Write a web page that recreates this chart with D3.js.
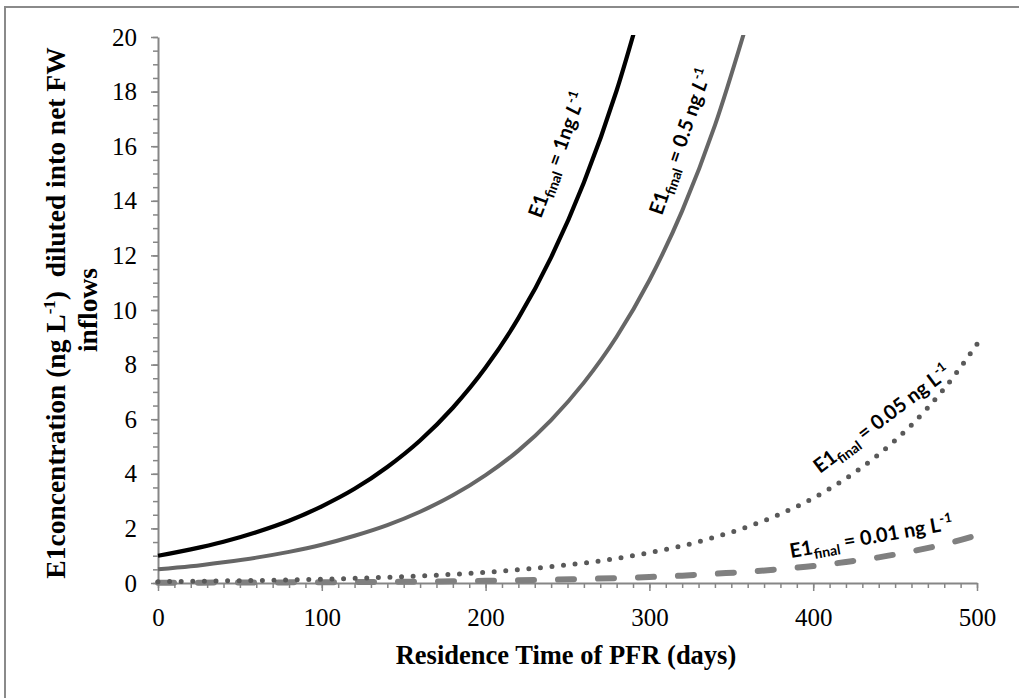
<!DOCTYPE html>
<html>
<head>
<meta charset="utf-8">
<script src="https://cdn.jsdelivr.net/npm/d3@7"></script>
<style>
  body { margin: 0; background: #fff; }
  .tick text { font-family: "Liberation Serif", "Times New Roman", serif; }
</style>
</head>
<body>
<div id="chart"></div>
<script>
// residence time (days)
var days = [0, 20, 40, 60, 80, 100, 120, 140, 160, 180, 200, 220, 240, 260,
            280, 300, 320, 340, 360, 380, 400, 420, 440, 460, 480, 500];

// E1 concentration, one array per E1final
var e1_1 = [1.00, 1.23, 1.51, 1.86, 2.28, 2.81, 3.45, 4.25, 5.22, 6.42, 7.89,
            9.70, 11.93, 14.67, 18.04, 22.17];
var e1_05 = [0.50, 0.61, 0.76, 0.93, 1.14, 1.40, 1.73, 2.12, 2.61, 3.21, 3.95,
             4.85, 5.97, 7.34, 9.02, 11.09, 13.63, 16.76, 20.60];
var e1_005 = [0.05, 0.06, 0.08, 0.09, 0.11, 0.14, 0.17, 0.21, 0.26, 0.32, 0.39,
              0.49, 0.60, 0.73, 0.90, 1.11, 1.36, 1.68, 2.06, 2.53, 3.11,
              3.83, 4.71, 5.79, 7.12, 8.75];
var e1_001 = [0.01, 0.012, 0.015, 0.019, 0.023, 0.028, 0.035, 0.042, 0.052,
              0.064, 0.079, 0.097, 0.12, 0.15, 0.18, 0.22, 0.27, 0.34, 0.41,
              0.51, 0.62, 0.77, 0.94, 1.16, 1.42, 1.75];

var xTicks = [0, 100, 200, 300, 400, 500];
var yTicks = [0, 2, 4, 6, 8, 10, 12, 14, 16, 18, 20];

var width = 1019,
    height = 698;
var svg = d3.select("#chart")
    .append("svg")
    .attr("width", width)
    .attr("height", height);

// outer frame (runs off the right and bottom edges)
svg.append("rect")
    .attr("x", 5).attr("y", 7)
    .attr("width", 1030).attr("height", 710)
    .attr("fill", "none")
    .attr("stroke", "#8a8a8a")
    .attr("stroke-width", 2);

var x = d3.scaleLinear().domain([0, 500]).range([158, 977]);
var y = d3.scaleLinear().domain([0, 20]).range([583, 37]);

var axisColor = "#868686";

// minor ticks
svg.append("g")
    .attr("transform", "translate(0,583)")
    .call(d3.axisBottom(x).tickValues(d3.range(0, 501, 10)).tickSize(5).tickFormat(""))
    .call(function(g) {
      g.select(".domain").remove();
      g.selectAll("line").attr("stroke", axisColor).attr("stroke-width", 1.5);
    });
svg.append("g")
    .attr("transform", "translate(158,0)")
    .call(d3.axisLeft(y).tickValues(d3.range(0, 20.01, 0.5)).tickSize(5).tickFormat(""))
    .call(function(g) {
      g.select(".domain").remove();
      g.selectAll("line").attr("stroke", axisColor).attr("stroke-width", 1.5);
    });

// major ticks + labels
var xAxis = svg.append("g")
    .attr("transform", "translate(0,583)")
    .call(d3.axisBottom(x).tickValues(xTicks).tickSize(8).tickPadding(17).tickSizeOuter(0));
var yAxis = svg.append("g")
    .attr("transform", "translate(158,0)")
    .call(d3.axisLeft(y).tickValues(yTicks).tickSize(7).tickPadding(14).tickSizeOuter(0));

[xAxis, yAxis].forEach(function(g) {
  g.select(".domain").attr("stroke", axisColor).attr("stroke-width", 2);
  g.selectAll(".tick line").attr("stroke", axisColor).attr("stroke-width", 1.5);
  g.selectAll(".tick text")
    .attr("fill", "#000")
    .style("font-size", "25px");
});

// lines
svg.append("clipPath").attr("id", "plot")
  .append("rect")
    .attr("x", 150).attr("y", 35)
    .attr("width", 840).attr("height", 560);

var line = d3.line()
    .x(function(d) { return x(d[0]); })
    .y(function(d) { return y(d[1]); })
    .curve(d3.curveMonotoneX);

var series = [
  { values: e1_001, color: "#808080", w: 6, dash: "16,24", cap: "round" },
  { values: e1_005, color: "#595959", w: 5, dash: "0,11.6", cap: "round" },
  { values: e1_05, color: "#666666", w: 4, dash: null, cap: "butt" },
  { values: e1_1, color: "#000000", w: 4.2, dash: null, cap: "butt" }
];

svg.append("g")
    .attr("clip-path", "url(#plot)")
    .selectAll("path")
    .data(series)
    .enter().append("path")
    .attr("d", function(s) {
      return line(s.values.map(function(v, i) { return [days[i], v]; }));
    })
    .attr("fill", "none")
    .attr("stroke", function(s) { return s.color; })
    .attr("stroke-width", function(s) { return s.w; })
    .attr("stroke-linecap", function(s) { return s.cap; })
    .attr("stroke-dasharray", function(s) { return s.dash; });

// curve labels
var labels = [
  { x: 541, y: 219, rot: -70, val: "1ng ", italicL: true },
  { x: 662, y: 216, rot: -71, val: "0.5 ng ", italicL: true },
  { x: 820, y: 474, rot: -37, val: "0.05 ng ", italicL: false },
  { x: 791, y: 558, rot: -10, val: "0.01 ng ", italicL: false }
];

labels.forEach(function(l) {
  var t = svg.append("text")
      .attr("transform", "translate(" + l.x + "," + l.y + ") rotate(" + l.rot + ")")
      .style("font-family", "Lato, 'Open Sans', sans-serif")
      .style("font-weight", "bold")
      .style("font-size", "20px")
      .attr("fill", "#000");
  t.append("tspan").text("E1");
  t.append("tspan").attr("dy", 5).style("font-size", "14px").text("final");
  t.append("tspan").attr("dy", -5).text(" = " + l.val);
  t.append("tspan").style("font-style", l.italicL ? "italic" : "normal").text("L");
  t.append("tspan").attr("dy", -8).style("font-size", "13px").text("-1");
});

// axis titles
var titleFont = "'Liberation Serif', 'Times New Roman', serif";
svg.append("text")
    .attr("x", 566).attr("y", 664)
    .attr("text-anchor", "middle")
    .style("font-family", titleFont)
    .style("font-weight", "bold")
    .style("font-size", "26.5px")
    .text("Residence Time of PFR (days)");

var yt = svg.append("text")
    .attr("transform", "translate(65,313) rotate(-90)")
    .attr("text-anchor", "middle")
    .style("font-family", titleFont)
    .style("font-weight", "bold")
    .style("font-size", "27.5px")
    .style("white-space", "pre");
yt.append("tspan").text("E1concentration (ng L");
yt.append("tspan").attr("dy", -10).style("font-size", "17px").text("-1");
yt.append("tspan").attr("dy", 10).text(")  diluted into net FW");

svg.append("text")
    .attr("transform", "translate(97,310) rotate(-90)")
    .attr("text-anchor", "middle")
    .style("font-family", titleFont)
    .style("font-weight", "bold")
    .style("font-size", "27.5px")
    .text("inflows");
</script>
</body>
</html>
